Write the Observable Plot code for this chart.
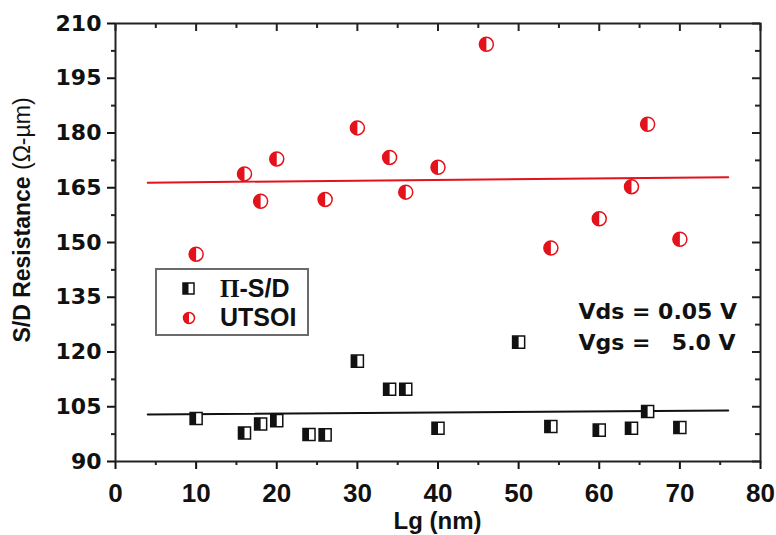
<!DOCTYPE html>
<html>
<head>
<meta charset="utf-8">
<script src="https://cdn.jsdelivr.net/npm/d3@7"></script>
<script src="https://cdn.jsdelivr.net/npm/@observablehq/plot@0.6"></script>
<style>
  body { margin: 0; background: #fff; }
  #wrap { position: relative; width: 776px; height: 535px; }
  .legend {
    position: absolute; left: 155px; top: 268px; width: 150px; height: 64px;
    border: 2px solid #6b6b6b; background: #fff;
    font-family: "Liberation Sans", Arial, sans-serif; font-weight: bold; font-size: 25px; color: #111;
  }
  .legend .row { position: absolute; left: 0; display: flex; align-items: center; }
  .legend svg { margin-left: 25px; margin-right: 24px; }
  .legend .pi { font-family: "Liberation Serif", "Times New Roman", serif; }
</style>
</head>
<body>
<div id="wrap"></div>
<script>
// Gate length (nm) and S/D resistance (Ω·µm) for the two device types
const lgPisd = [10, 16, 18, 20, 24, 26, 30, 34, 36, 40, 50, 54, 60, 64, 66, 70];
const resPisd = [101.8, 97.8, 100.3, 101.2, 97.4, 97.3, 117.5, 109.8, 109.8, 99.1, 122.7, 99.6, 98.6, 99.1, 103.7, 99.3];
const lgUtsoi = [10, 16, 18, 20, 26, 30, 34, 36, 40, 46, 54, 60, 64, 66, 70];
const resUtsoi = [146.8, 168.8, 161.3, 172.9, 161.8, 181.4, 173.3, 163.8, 170.6, 204.3, 148.5, 156.5, 165.3, 182.4, 150.9];

// Straight-line fits drawn across the range
const fitLg = [4, 76];
const fitPisd = [102.9, 104.0];
const fitUtsoi = [166.4, 167.9];

// Axis ticks
const xMajor = [0, 10, 20, 30, 40, 50, 60, 70, 80];
const xMinor = [5, 15, 25, 35, 45, 55, 65, 75];
const yMajor = [90, 105, 120, 135, 150, 165, 180, 195, 210];
const yMinor = [97.5, 112.5, 127.5, 142.5, 157.5, 172.5, 187.5, 202.5];

const W = 776, H = 535;
const mT = 23, mR = 16, mB = 74, mL = 115;
const innerW = W - mL - mR, innerH = H - mT - mB;

const RED = "#e3121b";
const sans = "'Liberation Sans', Arial, sans-serif";
const wide = "'DejaVu Sans', Verdana, sans-serif";

// Half-filled marker shapes (left half), plus a plain square
const halfCircle = {draw(ctx, size) {
  const r = Math.sqrt(size / Math.PI);
  ctx.moveTo(0, -r); ctx.arc(0, 0, r, -Math.PI / 2, Math.PI / 2, true); ctx.closePath();
}};
const squareSym = {draw(ctx, size) {
  const s = Math.sqrt(size) / 2; ctx.rect(-s, -s, 2 * s, 2 * s);
}};
const halfSquare = {draw(ctx, size) {
  const s = Math.sqrt(size) / 2; ctx.rect(-s, -s, s, 2 * s);
}};

const pisd = lgPisd.map((x, i) => ({x, y: resPisd[i]}));
const utsoi = lgUtsoi.map((x, i) => ({x, y: resUtsoi[i]}));
const fitP = fitLg.map((x, i) => ({x, y: fitPisd[i]}));
const fitU = fitLg.map((x, i) => ({x, y: fitUtsoi[i]}));

const note = {fontSize: 22, fontWeight: "bold", fontFamily: wide, fill: "#111", lineAnchor: "middle"};

const chart = Plot.plot({
  width: W, height: H,
  marginTop: mT, marginRight: mR, marginBottom: mB, marginLeft: mL,
  style: {background: "#fff", fontFamily: sans, color: "#111"},
  x: {domain: [0, 80]},
  y: {domain: [90, 210]},
  marks: [
    // outward ticks on bottom and left
    Plot.axisX(xMajor, {tickSize: 8, tickPadding: 14, strokeWidth: 2, fontSize: 26, fontWeight: "bold", label: null}),
    Plot.ruleX(xMinor, {x: d => d, insetTop: innerH, insetBottom: -4, stroke: "#222", strokeWidth: 2}),
    Plot.axisY(yMajor, {tickSize: 8, tickPadding: 6, strokeWidth: 2, fontSize: 22, fontWeight: "bold", fontFamily: wide, label: null}),
    Plot.ruleY(yMinor, {y: d => d, insetRight: innerW, insetLeft: -4, stroke: "#222", strokeWidth: 2}),
    // inward ticks on top and right
    Plot.ruleX(xMajor, {x: d => d, insetBottom: innerH - 8, stroke: "#222", strokeWidth: 2}),
    Plot.ruleX(xMinor, {x: d => d, insetBottom: innerH - 5, stroke: "#222", strokeWidth: 2}),
    Plot.ruleY(yMajor, {y: d => d, insetLeft: innerW - 8, stroke: "#222", strokeWidth: 2}),
    Plot.ruleY(yMinor, {y: d => d, insetLeft: innerW - 5, stroke: "#222", strokeWidth: 2}),
    Plot.frame({stroke: "#222", strokeWidth: 2}),
    // fit lines
    Plot.line(fitU, {x: "x", y: "y", stroke: RED, strokeWidth: 2}),
    Plot.line(fitP, {x: "x", y: "y", stroke: "#111", strokeWidth: 2}),
    // UTSOI markers
    Plot.dot(utsoi, {x: "x", y: "y", r: 7, fill: "#fff", stroke: RED, strokeWidth: 1.5}),
    Plot.dot(utsoi, {x: "x", y: "y", r: 7, symbol: halfCircle, fill: RED, stroke: "none"}),
    // Π-S/D markers
    Plot.dot(pisd, {x: "x", y: "y", r: 6.8, symbol: squareSym, fill: "#fff", stroke: "#111", strokeWidth: 1.5}),
    Plot.dot(pisd, {x: "x", y: "y", r: 6.8, symbol: halfSquare, fill: "#111", stroke: "none"}),
    // bias conditions
    Plot.text(["Vds = 0.05 V"], {...note, frameAnchor: "top-left", dx: 463, dy: 288, textAnchor: "start"}),
    Plot.text(["Vgs ="], {...note, frameAnchor: "top-left", dx: 463, dy: 319, textAnchor: "start"}),
    Plot.text(["5.0 V"], {...note, frameAnchor: "top-right", dx: -25, dy: 319, textAnchor: "end"})
  ]
});

const wrap = document.getElementById("wrap");
wrap.appendChild(chart);

// Axis titles
const svg = d3.select(chart);
svg.append("text")
  .attr("x", mL + innerW / 2).attr("y", 529)
  .attr("text-anchor", "middle")
  .attr("font-family", sans).attr("font-weight", "bold").attr("font-size", 24).attr("fill", "#111")
  .text("Lg (nm)");
const yt = svg.append("text")
  .attr("transform", "translate(30,220) rotate(-90)")
  .attr("text-anchor", "middle")
  .attr("font-family", sans).attr("font-size", 23).attr("fill", "#111");
yt.append("tspan").attr("font-weight", "bold").text("S/D Resistance ");
yt.append("tspan").attr("font-weight", "normal").text("(Ω-µm)");

// Legend box
const legend = document.createElement("div");
legend.className = "legend";
legend.innerHTML = `
  <div class="row" style="top:4px">
    <svg width="14" height="14"><rect x="1" y="1" width="11" height="11" fill="#fff" stroke="#111" stroke-width="1.5"/><rect x="1" y="1" width="5.5" height="11" fill="#111"/></svg>
    <span><span class="pi">Π</span>-S/D</span>
  </div>
  <div class="row" style="top:33px">
    <svg width="14" height="14"><circle cx="7" cy="7" r="5.5" fill="#fff" stroke="${RED}" stroke-width="1.5"/><path d="M7,1.5A5.5,5.5 0 0 0 7,12.5Z" fill="${RED}"/></svg>
    <span>UTSOI</span>
  </div>`;
wrap.appendChild(legend);
</script>
</body>
</html>
